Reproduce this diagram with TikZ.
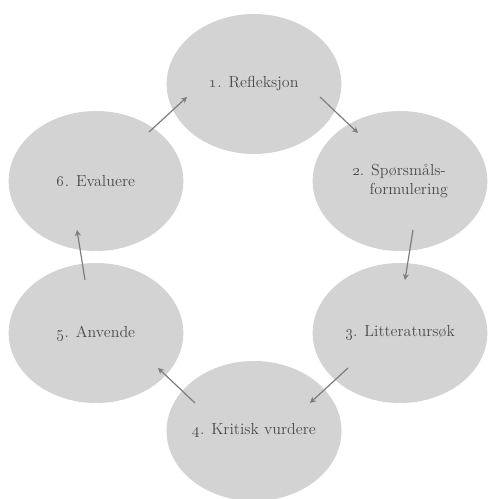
\documentclass[tikz,border=0pt]{standalone}
\usepackage{tikz}
\usetikzlibrary{arrows.meta,shapes.geometric}
\definecolor{bubble}{RGB}{211,211,211}
\definecolor{txtgray}{RGB}{75,75,75}
\definecolor{arrowgray}{RGB}{125,125,125}

\begin{document}
\begin{tikzpicture}[x=0.75pt,y=0.75pt,>={Stealth[length=4.5pt,width=4.5pt]},
  stage/.style={ellipse,fill=bubble,inner sep=0pt,minimum width=131pt,minimum height=105pt,text=txtgray,font=\large},
  flow/.style={->,arrowgray,line width=0.9pt}]
  \useasboundingbox (0,0) rectangle (487,499);
  \node[stage] (refl) at (254,415){\oldstylenums{1}. Refleksjon};
  \node[stage,align=left] (quest) at (400,318){\oldstylenums{2}. Spørsmåls-\\\hspace*{1.1em}formulering};
  \node[stage] (lit) at (400,166){\oldstylenums{3}. Litteratursøk};
  \node[stage] (crit) at (254,68){\oldstylenums{4}. Kritisk vurdere};
  \node[stage] (apply) at (96,166){\oldstylenums{5}. Anvende};
  \node[stage] (eval) at (96,318){\oldstylenums{6}. Evaluere};
  \draw[flow] ([shift={(53,49)}]eval.center) -- ([shift={(-67,-13)}]refl.center);
  \draw[flow] ([shift={(66,-13)}]refl.center) -- ([shift={(-42,48)}]quest.center);
  \draw[flow] ([shift={(13,-49)}]quest.center) -- ([shift={(5,53)}]lit.center);
  \draw[flow] ([shift={(-52,-35)}]lit.center) -- ([shift={(56,28)}]crit.center);
  \draw[flow] ([shift={(-59,28)}]crit.center) -- ([shift={(62,-35)}]apply.center);
  \draw[flow] ([shift={(-11,53)}]apply.center) -- ([shift={(-19,-49)}]eval.center);
\end{tikzpicture}
\end{document}
